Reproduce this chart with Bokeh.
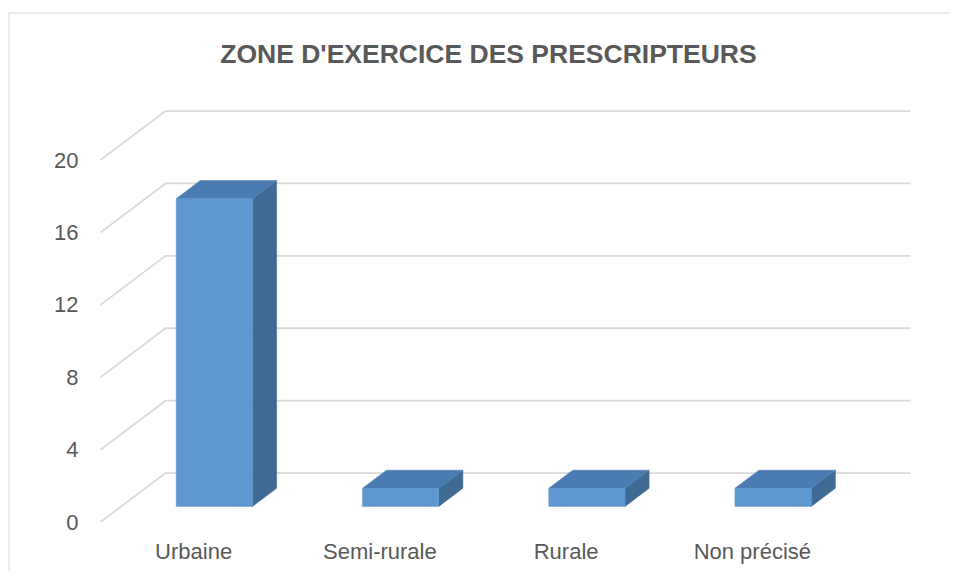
from bokeh.plotting import figure
from bokeh.models import Range1d, ColumnDataSource, Span
from bokeh.core.properties import value
from bokeh.embed import file_html
from bokeh.resources import INLINE

# ---- data ----
title_text = "ZONE D'EXERCICE DES PRESCRIPTEURS"
categories = ["Urbaine", "Semi-rurale", "Rurale", "Non précisé"]
counts = [17, 1, 1, 1]
y_ticks = [0, 4, 8, 12, 16, 20]

# ---- 3D projection settings (data units) ----
DX, DY = 0.349, 2.707        # full floor depth offset
F1, F2 = 0.32, 0.69          # bar depth span (fractions of floor depth)
BAR_W = 0.41

FONT = value("Liberation Sans")
TXT = "#595959"
GRID = "#d9d9d9"

X0, X1 = -0.494, 4.564
Y0, Y1 = -2.73, 28.15

p = figure(width=950, height=571, output_backend="svg", toolbar_location=None,
           x_range=Range1d(X0, X1), y_range=Range1d(Y0, Y1),
           min_border_left=8, min_border_right=0, min_border_top=12, min_border_bottom=0)
p.axis.visible = False
p.xgrid.visible = False
p.ygrid.visible = False
p.outline_line_color = None
p.background_fill_color = "white"
p.border_fill_color = "white"

# border of the chart area (left & top)
p.add_layout(Span(location=X0, dimension="height", line_color=GRID, line_width=2))
p.add_layout(Span(location=Y1, dimension="width", line_color=GRID, line_width=2))

# gridlines: back wall + floor/side diagonals
ncat = len(categories)
gx, gy = [], []
for v in y_ticks:
    gx.append([0, DX, ncat + DX])
    gy.append([v, v + DY, v + DY])
p.multi_line(xs=gx, ys=gy, line_color=GRID, line_width=1.8)

# bars
fx, fy, tx, ty, sx, sy = [], [], [], [], [], []
dd = F2 - F1
for i, v in enumerate(counts):
    x0 = i + 0.5 - BAR_W / 2 + F1 * DX
    x1 = i + 0.5 + BAR_W / 2 + F1 * DX
    yb = F1 * DY
    yt = yb + v
    ox, oy = dd * DX, dd * DY
    fx.append([x0, x1, x1, x0]); fy.append([yb, yb, yt, yt])
    tx.append([x0, x1, x1 + ox, x0 + ox]); ty.append([yt, yt, yt + oy, yt + oy])
    sx.append([x1, x1 + ox, x1 + ox, x1]); sy.append([yb, yb + oy, yt + oy, yt])

p.patches(xs=sx, ys=sy, fill_color="#3e6a94", line_color="#3e6a94", line_width=0.5)
p.patches(xs=tx, ys=ty, fill_color="#4a7cb2", line_color="#4a7cb2", line_width=0.5)
p.patches(xs=fx, ys=fy, fill_color="#5f98d1", line_color="#5a92ca", line_width=0.5)

# value axis labels
src_t = ColumnDataSource(dict(x=[-0.118] * len(y_ticks), y=y_ticks, t=[str(v) for v in y_ticks]))
p.text(x="x", y="y", text="t", source=src_t, text_font=FONT, text_font_size="22px",
       text_color=TXT, text_align="right", text_baseline="middle")

# category labels
src_c = ColumnDataSource(dict(x=[i + 0.5 for i in range(ncat)], y=[-1.63] * ncat, t=categories))
p.text(x="x", y="y", text="t", source=src_c, text_font=FONT, text_font_size="22px",
       text_color=TXT, text_align="center", text_baseline="middle")

# title
p.text(x=[2.083], y=[25.88], text=[title_text], text_font=FONT, text_font_size="26.5px",
       text_font_style="bold", text_color=TXT, text_align="center", text_baseline="middle")

open("out.html", "w").write(file_html(p, INLINE))
